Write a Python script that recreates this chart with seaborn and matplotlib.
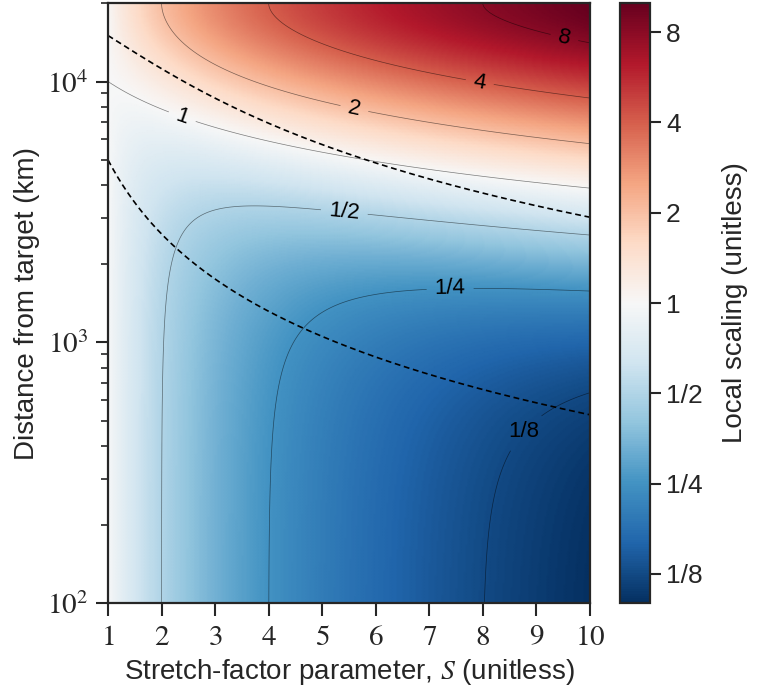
import numpy as np
import matplotlib
matplotlib.use('Agg')
import matplotlib.pyplot as plt
import seaborn as sns
from matplotlib.colors import LogNorm
from matplotlib.ticker import FixedLocator, FuncFormatter, LogLocator, NullFormatter

# ---------------------------------------------
# data / parameters
# ---------------------------------------------
earth_radius_km = 6371.0
stretch_ticks = [1, 2, 3, 4, 5, 6, 7, 8, 9, 10]
dist_min_km = 100.0
contour_levels = [1/8, 1/4, 1/2, 1, 2, 4, 8]
contour_text = ['1/8', '1/4', '1/2', '1', '2', '4', '8']
face_edge_deg = [45, 135]          # computational angle of cube-face edges
label_spots = [(8.73, 463), (7.39, 1630), (5.42, 3250), (2.40, 7460),
               (5.61, 8020), (7.95, 10100), (9.53, 14900)]

# ---------------------------------------------
# local scaling of the Schmidt-stretched grid
# ---------------------------------------------
dist_max_km = np.pi * earth_radius_km
s_grid = np.linspace(stretch_ticks[0], stretch_ticks[-1], 300)
d_grid = np.logspace(np.log10(dist_min_km), np.log10(dist_max_km), 400)
S, D = np.meshgrid(s_grid, d_grid)
theta = D / earth_radius_km
scaling = (1 + S**2 + (1 - S**2) * np.cos(theta)) / (2 * S)

sns.set_style('ticks')
plt.rcParams['font.family'] = ['Liberation Sans', 'DejaVu Sans']
plt.rcParams['mathtext.fontset'] = 'stix'
plt.rcParams['axes.linewidth'] = 1.6

cmap = sns.color_palette('RdBu_r', as_cmap=True)
norm = LogNorm(vmin=0.1, vmax=10)

fig = plt.figure(figsize=(7.64, 6.9), dpi=100)
ax = fig.add_axes([0.1414, 0.126, 0.6306, 0.8697])
cax = fig.add_axes([0.8115, 0.126, 0.0393, 0.8697])

ax.set_yscale('log')
ax.set_xlim(stretch_ticks[0], stretch_ticks[-1])
ax.set_ylim(dist_min_km, dist_max_km)

mesh = ax.pcolormesh(S, D, scaling, cmap=cmap, norm=norm, shading='gouraud', rasterized=True)

cs = ax.contour(S, D, scaling, levels=contour_levels, colors='k', linewidths=0.5, alpha=0.5)
labels = ax.clabel(cs, levels=contour_levels, fmt=dict(zip(contour_levels, contour_text)),
                   manual=label_spots, inline=True, inline_spacing=8, fontsize=16, colors='k')
for t in labels:
    t.set_alpha(1.0)
    if t.get_text() == '1/8':
        t.set_rotation(0)

# cube-face boundaries mapped to physical distance
for ang in face_edge_deg:
    half = np.radians(ang) / 2
    edge_km = 2 * np.arctan(np.tan(half) / s_grid) * earth_radius_km
    sns.lineplot(x=s_grid, y=edge_km, ax=ax, color='k', linestyle=(0, (3.5, 2.2)), linewidth=1.2)

ax.xaxis.set_major_locator(FixedLocator(stretch_ticks))
ax.xaxis.set_major_formatter(FuncFormatter(lambda v, p: r'$%d$' % round(v)))
ax.yaxis.set_major_locator(LogLocator(base=10, numticks=10))
ax.yaxis.set_major_formatter(FuncFormatter(lambda v, p: r'$10^{%d}$' % round(np.log10(v))))
ax.yaxis.set_minor_locator(LogLocator(base=10, subs=np.arange(2, 10), numticks=20))
ax.yaxis.set_minor_formatter(NullFormatter())
ax.tick_params(which='major', direction='out', length=9, width=1.5, labelsize=21, pad=5)
ax.tick_params(which='minor', direction='out', length=5, width=1.2)

ax.set_xlabel(r'Stretch-factor parameter, $S$ (unitless)', fontsize=20, labelpad=5)
ax.set_ylabel('Distance from target (km)', fontsize=20, labelpad=5)

cb = fig.colorbar(mesh, cax=cax)
cb.set_ticks(contour_levels)
cb.set_ticklabels(contour_text)
cb.ax.minorticks_off()
cb.ax.tick_params(direction='out', length=8, width=1.5, labelsize=19)
cb.outline.set_linewidth(1.6)
cb.set_label('Local scaling (unitless)', fontsize=20, labelpad=14)

fig.savefig('out.png', dpi=100)
